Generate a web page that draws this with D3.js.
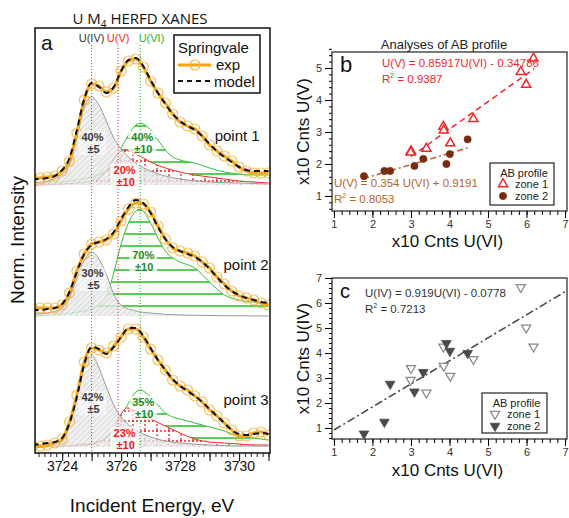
<!DOCTYPE html>
<html>
<head>
<meta charset="utf-8">
<script src="https://cdn.jsdelivr.net/npm/d3@7"></script>
<style>
body { margin: 0; background: white; }
svg { display: block; font-family: 'Liberation Sans', Arial, sans-serif; }
</style>
</head>
<body>
<div id="chart"></div>
<script>
// ---------- data, panel a (U M4 HERFD XANES) ----------
const energies = [3723.0, 3723.25, 3723.5, 3723.75, 3724.0, 3724.25, 3724.5, 3724.75, 3725.0, 3725.25,
                  3725.5, 3725.75, 3726.0, 3726.25, 3726.5, 3726.75, 3727.0, 3727.25, 3727.5, 3727.75,
                  3728.0, 3728.25, 3728.5, 3728.75, 3729.0, 3729.25, 3729.5, 3729.75, 3730.0, 3730.25,
                  3730.5, 3730.75, 3731.0];
const pointNames = ['point 1', 'point 2', 'point 3'];
const offsets = [2.68, 1.37, 0.06];

const expP1 = [0.06,0.07,0.08,0.09,0.14,0.24,0.52,0.85,1.01,0.99,0.93,0.97,1.14,1.24,1.26,1.18,1.04,0.92,0.82,0.71,0.63,0.59,0.56,0.49,0.40,0.34,0.29,0.24,0.18,0.14,0.12,0.12,0.12];
const expP2 = [0.08,0.08,0.08,0.08,0.11,0.23,0.45,0.62,0.72,0.74,0.76,0.82,0.95,1.07,1.13,1.12,1.04,0.90,0.77,0.68,0.65,0.63,0.60,0.54,0.48,0.39,0.32,0.25,0.20,0.18,0.16,0.13,0.11];
const expP3 = [0.01,0.01,0.02,0.04,0.08,0.25,0.52,0.85,0.99,0.97,0.94,1.01,1.10,1.18,1.18,1.10,0.98,0.87,0.77,0.67,0.61,0.57,0.51,0.45,0.37,0.31,0.24,0.17,0.11,0.11,0.14,0.15,0.12];

const modelP1 = [0.06,0.06,0.07,0.09,0.15,0.27,0.55,0.86,1.02,0.98,0.92,0.98,1.14,1.25,1.27,1.19,1.05,0.92,0.81,0.71,0.64,0.59,0.55,0.49,0.41,0.34,0.28,0.23,0.18,0.15,0.14,0.14,0.14];
const modelP2 = [0.06,0.06,0.07,0.08,0.12,0.24,0.44,0.62,0.71,0.74,0.77,0.84,0.97,1.09,1.16,1.13,1.03,0.89,0.77,0.69,0.65,0.62,0.59,0.54,0.47,0.39,0.31,0.25,0.21,0.18,0.16,0.14,0.13];
const modelP3 = [0.02,0.03,0.04,0.05,0.09,0.24,0.50,0.83,1.00,0.98,0.93,1.00,1.10,1.19,1.19,1.11,0.99,0.87,0.77,0.68,0.61,0.56,0.51,0.45,0.38,0.31,0.24,0.17,0.13,0.12,0.13,0.14,0.13];

// fitted components [energy, intensity]
const grayP1 = [[3723.0,0.02],[3723.5,0.04],[3724.0,0.11],[3724.25,0.20],[3724.5,0.47],[3724.75,0.78],[3725.0,0.88],[3725.25,0.80],[3725.5,0.64],[3725.75,0.47],[3726.0,0.36],[3726.5,0.22],[3727.0,0.14],[3727.5,0.09],[3728.0,0.06],[3729.0,0.03],[3730.0,0.02],[3731.0,0.01]];
const redP1 = [[3723.0,0.0],[3724.0,0.01],[3724.5,0.02],[3725.0,0.04],[3725.25,0.07],[3725.5,0.14],[3725.75,0.26],[3726.0,0.34],[3726.15,0.35],[3726.5,0.31],[3727.0,0.23],[3727.5,0.17],[3728.0,0.13],[3728.5,0.10],[3729.0,0.08],[3729.5,0.06],[3730.0,0.04],[3730.5,0.03],[3731.0,0.02]];
const greenP1 = [[3723.0,0.01],[3724.0,0.03],[3724.5,0.05],[3725.0,0.08],[3725.5,0.15],[3725.75,0.26],[3726.0,0.37],[3726.25,0.50],[3726.5,0.60],[3726.65,0.62],[3726.75,0.61],[3727.0,0.55],[3727.25,0.45],[3727.5,0.35],[3727.75,0.28],[3728.0,0.25],[3728.5,0.22],[3729.0,0.17],[3729.5,0.13],[3730.0,0.11],[3730.5,0.10],[3731.0,0.10]];
const grayP2 = [[3723.0,0.02],[3723.5,0.03],[3724.0,0.08],[3724.25,0.18],[3724.5,0.38],[3724.75,0.56],[3725.0,0.64],[3725.25,0.57],[3725.5,0.42],[3725.75,0.22],[3726.0,0.11],[3726.5,0.05],[3727.0,0.03],[3728.0,0.01],[3731.0,0.0]];
const greenP2 = [[3723.0,0.0],[3724.0,0.02],[3724.5,0.04],[3725.0,0.07],[3725.25,0.11],[3725.5,0.19],[3725.75,0.43],[3726.0,0.72],[3726.25,0.93],[3726.5,1.05],[3726.65,1.07],[3726.75,1.05],[3727.0,0.93],[3727.25,0.78],[3727.5,0.65],[3727.75,0.58],[3728.0,0.54],[3728.5,0.48],[3729.0,0.34],[3729.5,0.21],[3730.0,0.16],[3730.5,0.14],[3731.0,0.13]];
const grayP3 = [[3723.0,0.01],[3723.5,0.02],[3724.0,0.06],[3724.25,0.22],[3724.5,0.49],[3724.75,0.80],[3725.0,0.92],[3725.25,0.79],[3725.5,0.60],[3725.75,0.42],[3726.0,0.30],[3726.5,0.17],[3727.0,0.10],[3727.5,0.06],[3728.0,0.04],[3729.0,0.02],[3730.0,0.01],[3731.0,0.01]];
const redP3 = [[3723.0,0.0],[3724.0,0.01],[3725.0,0.03],[3725.25,0.05],[3725.5,0.09],[3725.75,0.18],[3726.0,0.33],[3726.2,0.39],[3726.5,0.36],[3727.0,0.28],[3727.5,0.21],[3728.0,0.14],[3728.5,0.08],[3729.0,0.05],[3729.5,0.04],[3730.0,0.03],[3730.5,0.02],[3731.0,0.02]];
const greenP3 = [[3723.0,0.0],[3724.0,0.01],[3724.5,0.02],[3725.0,0.04],[3725.5,0.10],[3725.75,0.18],[3726.0,0.30],[3726.25,0.44],[3726.5,0.55],[3726.65,0.57],[3726.75,0.56],[3727.0,0.50],[3727.25,0.42],[3727.5,0.34],[3727.75,0.30],[3728.0,0.28],[3728.5,0.24],[3729.0,0.20],[3729.5,0.16],[3730.0,0.11],[3730.5,0.09],[3731.0,0.07]];

const edgeNames = ['U(IV)', 'U(V)', 'U(VI)'];
const edgeEnergies = [3725.0, 3725.9, 3726.65];

// fractions: [point, component, percent, error]
const shares = [
  [0, 'IV', '40%', '±5'], [0, 'V', '20%', '±10'], [0, 'VI', '40%', '±10'],
  [1, 'IV', '30%', '±5'], [1, 'VI', '70%', '±10'],
  [2, 'IV', '42%', '±5'], [2, 'V', '23%', '±10'], [2, 'VI', '35%', '±10']
];

// ---------- data, panels b and c (AB profile) ----------
const zone1U6 = [3.0, 2.99, 3.4, 3.84, 3.85, 4.02, 4.62, 5.85, 5.99, 6.18];
const zone1U5 = [2.40, 2.36, 2.48, 3.17, 3.05, 2.65, 3.41, 4.88, 4.48, 5.30];
const zone1U4 = [3.39, 2.92, 2.41, 4.25, 3.48, 3.08, 3.75, 6.63, 5.01, 4.25];
const zone2U6 = [1.78, 2.31, 2.46, 3.09, 3.32, 3.92, 4.01, 4.47];
const zone2U5 = [1.62, 1.78, 1.78, 1.94, 2.16, 2.00, 2.31, 2.77];
const zone2U4 = [0.77, 1.24, 2.76, 2.45, 3.23, 4.39, 4.08, 3.99];

const fitB1 = [[3.0, 2.23], [6.2, 4.98]];
const fitB2 = [[1.76, 1.54], [4.47, 2.50]];
const fitC = [[1.0, 0.92], [7.0, 6.45]];

const eqB1 = ['U(V) = 0.85917U(VI) - 0.34786', '0.9387'];
const eqB2 = ['U(V) = 0.354 U(VI) + 0.9191', '0.8053'];
const eqC = ['U(IV) = 0.919U(VI) - 0.0778', '0.7213'];

// ---------- colours ----------
const orange = '#f6a313';
const red = '#f2262a';
const green = '#2fc42f';
const brown = '#b4622c';

const w = 569;
const h = 518;

const svg = d3.select('#chart')
              .append('svg')
              .attr('width', w)
              .attr('height', h)
              .style('background-color', 'white');

const defs = svg.append('defs');

// patterns
const hatch = defs.append('pattern').attr('id', 'hatch').attr('patternUnits', 'userSpaceOnUse')
   .attr('width', 4).attr('height', 4).attr('patternTransform', 'rotate(45)');
hatch.append('rect').attr('width', 4).attr('height', 4).attr('fill', '#ececec');
hatch.append('line').attr('x1', 0).attr('y1', 0).attr('x2', 0).attr('y2', 4)
   .attr('stroke', '#bdbdbd').attr('stroke-width', 1.2);

const dots = defs.append('pattern').attr('id', 'dots').attr('patternUnits', 'userSpaceOnUse')
   .attr('width', 12).attr('height', 10);
dots.append('rect').attr('width', 12).attr('height', 10).attr('fill', 'white');
dots.append('line').attr('x1', 1).attr('y1', 0).attr('x2', 1).attr('y2', 10)
   .attr('stroke', red).attr('stroke-width', 1.3).attr('stroke-dasharray', '2,2');
dots.append('line').attr('x1', 0).attr('y1', 1).attr('x2', 12).attr('y2', 1)
   .attr('stroke', red).attr('stroke-width', 1.3).attr('stroke-dasharray', '2,2');

const stripes = defs.append('pattern').attr('id', 'stripes').attr('patternUnits', 'userSpaceOnUse')
   .attr('width', 10).attr('height', 12);
stripes.append('rect').attr('width', 10).attr('height', 12).attr('fill', 'white');
stripes.append('line').attr('x1', 0).attr('y1', 6).attr('x2', 10).attr('y2', 6)
   .attr('stroke', green).attr('stroke-width', 1.6);

// ================= panel a =================
const pa = {l: 35, r: 270, t: 28, b: 453};
const xA = d3.scaleLinear().domain([3723.08, 3731.05]).range([pa.l, pa.r]);
const yA = d3.scaleLinear().domain([0, 4.25]).range([pa.b, pa.t]);

defs.append('clipPath').attr('id', 'clipA')
   .append('rect').attr('x', pa.l).attr('y', pa.t).attr('width', pa.r - pa.l).attr('height', pa.b - pa.t);

const gA = svg.append('g').attr('clip-path', 'url(#clipA)');

const components = [
   {gray: grayP1, red: redP1, green: greenP1},
   {gray: grayP2, red: null, green: greenP2},
   {gray: grayP3, red: redP3, green: greenP3}
];
const exps = [expP1, expP2, expP3];
const models = [modelP1, modelP2, modelP3];

const compStyle = {
   green: {fill: 'url(#stripes)', stroke: green, opacity: 1},
   red: {fill: 'url(#dots)', stroke: red, opacity: 1},
   gray: {fill: 'url(#hatch)', stroke: '#9a9a9a', opacity: 0.8}
};

components.forEach((c, i) => {
   const off = offsets[i];
   const area = d3.area().x(d => xA(d[0])).y0(yA(off)).y1(d => yA(off + d[1])).curve(d3.curveMonotoneX);
   const line = d3.line().x(d => xA(d[0])).y(d => yA(off + d[1])).curve(d3.curveMonotoneX);
   ['green', 'red', 'gray'].forEach(k => {
      if (!c[k]) return;
      gA.append('path').attr('d', area(c[k]))
         .attr('fill', compStyle[k].fill).attr('fill-opacity', compStyle[k].opacity);
      gA.append('path').attr('d', line(c[k]))
         .attr('fill', 'none').attr('stroke', compStyle[k].stroke).attr('stroke-width', 1);
   });
});

// edge markers
const edgeColors = ['#666', red, '#2aa82a'];
const edgeLabelColors = ['#333', red, '#2fb02f'];
const edgeLabelX = [0, 0, 0.38];
edgeEnergies.forEach((e, i) => {
   svg.append('line')
      .attr('x1', xA(e)).attr('x2', xA(e))
      .attr('y1', 45).attr('y2', pa.b)
      .attr('stroke', edgeColors[i]).attr('stroke-width', 1).attr('stroke-dasharray', '1,2');
   svg.append('text')
      .attr('x', xA(e + edgeLabelX[i])).attr('y', 42)
      .attr('text-anchor', 'middle')
      .attr('font-size', '11px')
      .attr('fill', edgeLabelColors[i])
      .text(edgeNames[i]);
});

// share labels: [energy of centre, intensity of first baseline above offset]
const shareLayout = {
   '0IV': [3725.03, 0.44], '0V': [3726.12, 0.11], '0VI': [3726.72, 0.44],
   '1IV': [3725.03, 0.39], '1VI': [3726.75, 0.57],
   '2IV': [3725.03, 0.46], '2V': [3726.12, 0.10], '2VI': [3726.75, 0.41]
};
const shareColors = {IV: '#3a3a3a', V: '#f01818', VI: '#1f8a1f'};
shares.forEach(s => {
   const [p, comp, pct, err] = s;
   const pos = shareLayout[p + comp];
   const cx = xA(pos[0]);
   const by = yA(offsets[p] + pos[1]);
   svg.append('rect')
      .attr('x', cx - 14).attr('y', by - 10).attr('width', 28).attr('height', 24)
      .attr('fill', 'white').attr('fill-opacity', comp === 'IV' ? 0.45 : 0.7);
   svg.append('text').attr('x', cx).attr('y', by)
      .attr('text-anchor', 'middle').attr('font-size', '11px').attr('font-weight', 'bold')
      .attr('fill', shareColors[comp]).text(pct);
   svg.append('text').attr('x', cx + 1).attr('y', by + 12)
      .attr('text-anchor', 'middle').attr('font-size', '11px').attr('font-weight', 'bold')
      .attr('fill', shareColors[comp]).text(err);
});

// exp + model
exps.forEach((vals, i) => {
   const pts = energies.map((e, j) => [e, offsets[i] + vals[j]]);
   const line = d3.line().x(d => xA(d[0])).y(d => yA(d[1])).curve(d3.curveMonotoneX);
   gA.append('path').attr('d', line(pts))
      .attr('fill', 'none').attr('stroke', orange).attr('stroke-width', 3);
   gA.selectAll(null).data(pts).enter().append('circle')
      .attr('cx', d => xA(d[0])).attr('cy', d => yA(d[1])).attr('r', 5)
      .attr('fill', 'none').attr('stroke', '#f7b440').attr('stroke-width', 1.2).attr('stroke-opacity', 0.85);
});
models.forEach((vals, i) => {
   const pts = energies.map((e, j) => [e, offsets[i] + vals[j]]);
   const line = d3.line().x(d => xA(d[0])).y(d => yA(d[1])).curve(d3.curveMonotoneX);
   gA.append('path').attr('d', line(pts))
      .attr('fill', 'none').attr('stroke', '#111').attr('stroke-width', 2).attr('stroke-dasharray', '6,4');
});

// point names
const pointNameLayout = [[3730.7, 0.44], [3731.0, 0.46], [3731.0, 0.42]];
pointNames.forEach((n, i) => {
   svg.append('text')
      .attr('x', xA(pointNameLayout[i][0])).attr('y', yA(offsets[i] + pointNameLayout[i][1]))
      .attr('text-anchor', 'end').attr('font-size', '15px').attr('fill', '#111')
      .text(n);
});

// frame + axis
svg.append('rect').attr('x', pa.l).attr('y', pa.t).attr('width', pa.r - pa.l).attr('height', pa.b - pa.t)
   .attr('fill', 'none').attr('stroke', '#111').attr('stroke-width', 1.5);

const minorA = d3.range(0, 40).map(i => 3723.2 + i * 0.2);
svg.append('g').attr('transform', `translate(0, ${pa.b})`)
   .call(d3.axisBottom(xA).tickValues(minorA).tickSize(4).tickFormat(''))
   .call(g => g.select('.domain').remove())
   .call(g => g.selectAll('line').attr('stroke', '#222'));
svg.append('g').attr('transform', `translate(0, ${pa.b})`)
   .call(d3.axisBottom(xA).tickValues(d3.range(3724, 3731.5, 1)).tickSize(8)
      .tickFormat(d => d % 2 === 0 ? d : ''))
   .call(g => g.select('.domain').remove())
   .call(g => g.selectAll('line').attr('stroke', '#222').attr('stroke-width', 1.2))
   .call(g => g.selectAll('text').attr('font-size', '14px').attr('fill', '#111')
      .attr('dy', '0.5em').attr('font-family', "'Liberation Sans', Arial, sans-serif"));

svg.append('text').attr('x', 152).attr('y', 512).attr('text-anchor', 'middle')
   .attr('font-size', '19px').attr('fill', '#111').text('Incident Energy, eV');
svg.append('text').attr('transform', 'rotate(-90)').attr('x', -240).attr('y', 24)
   .attr('text-anchor', 'middle').attr('font-size', '19px').attr('fill', '#111').text('Norm. Intensity');

const title = svg.append('text').attr('x', 140).attr('y', 24).attr('text-anchor', 'middle')
   .attr('font-size', '15px').attr('fill', '#111').attr('font-family', "'Open Sans', sans-serif");
title.append('tspan').text('U M');
title.append('tspan').attr('font-size', '10px').attr('dy', 4).text('4');
title.append('tspan').attr('dy', -4).text(' HERFD XANES');

svg.append('text').attr('x', 41).attr('y', 50).attr('font-size', '21px').attr('fill', '#111').text('a');

// legend a
const legA = svg.append('g');
legA.append('rect').attr('x', 174).attr('y', 35).attr('width', 86).attr('height', 58)
   .attr('fill', 'white').attr('stroke', '#111').attr('stroke-width', 1.5);
legA.append('text').attr('x', 178).attr('y', 53).attr('font-size', '15px').attr('fill', '#111').text('Springvale');
legA.append('line').attr('x1', 178).attr('x2', 211).attr('y1', 65).attr('y2', 65)
   .attr('stroke', orange).attr('stroke-width', 3);
legA.append('circle').attr('cx', 195).attr('cy', 65).attr('r', 5)
   .attr('fill', 'none').attr('stroke', '#f7b440').attr('stroke-width', 1.2);
legA.append('text').attr('x', 216).attr('y', 70).attr('font-size', '15px').attr('fill', '#111').text('exp');
legA.append('line').attr('x1', 178).attr('x2', 210).attr('y1', 81).attr('y2', 81)
   .attr('stroke', '#111').attr('stroke-width', 2).attr('stroke-dasharray', '5,4');
legA.append('text').attr('x', 214).attr('y', 87).attr('font-size', '15px').attr('fill', '#111').text('model');

// ================= panels b and c =================
function scatterPanel(cfg) {
   const {l, r, t, b} = cfg.box;
   const x = d3.scaleLinear().domain([0.95, 7.05]).range([l, r]);
   const y = d3.scaleLinear().domain(cfg.ydom).range([b, t]);

   svg.append('rect').attr('x', l).attr('y', t).attr('width', r - l).attr('height', b - t)
      .attr('fill', 'white').attr('stroke', '#222').attr('stroke-width', 1.2);

   // ticks
   const minorX = d3.range(0, 31).map(i => 1 + i * 0.2);
   svg.append('g').attr('transform', `translate(0, ${b})`)
      .call(d3.axisBottom(x).tickValues(minorX).tickSize(4).tickFormat(''))
      .call(g => g.select('.domain').remove());
   svg.append('g').attr('transform', `translate(0, ${b})`)
      .call(d3.axisBottom(x).tickValues(d3.range(1, 8)).tickSize(7).tickFormat(d3.format('d')))
      .call(g => g.select('.domain').remove())
      .call(g => g.selectAll('text').attr('font-size', '11px').attr('fill', '#333')
         .attr('dy', '0.6em').attr('font-family', "'Liberation Sans', Arial, sans-serif"));
   const ymax = Math.floor(cfg.ydom[1]);
   const minorY = d3.range(0, Math.round((cfg.ydom[1] - 0.6) / 0.2) + 1).map(i => 0.6 + i * 0.2);
   svg.append('g').attr('transform', `translate(${l}, 0)`)
      .call(d3.axisLeft(y).tickValues(minorY).tickSize(3).tickFormat(''))
      .call(g => g.select('.domain').remove());
   svg.append('g').attr('transform', `translate(${l}, 0)`)
      .call(d3.axisLeft(y).tickValues(d3.range(1, ymax + 1)).tickSize(7).tickFormat(d3.format('d')))
      .call(g => g.select('.domain').remove())
      .call(g => g.selectAll('text').attr('font-size', '11px').attr('fill', '#333')
         .attr('font-family', "'Liberation Sans', Arial, sans-serif"));

   // fit lines
   cfg.fits.forEach(f => {
      svg.append('path')
         .attr('d', d3.line().x(d => x(d[0])).y(d => y(d[1]))(f.pts))
         .attr('fill', 'none').attr('stroke', f.color).attr('stroke-width', 1.5)
         .attr('stroke-dasharray', f.dash);
   });

   // points
   cfg.series.forEach(s => {
      const pts = s.x.map((v, i) => [v, s.y[i]]);
      svg.selectAll(null).data(pts).enter().append('path')
         .attr('d', d3.symbol().type(s.symbol).size(s.size))
         .attr('transform', d => `translate(${x(d[0])}, ${y(d[1])}) rotate(${s.rot})`)
         .attr('fill', s.fill).attr('stroke', s.stroke).attr('stroke-width', s.sw);
   });

   // equations
   cfg.eqs.forEach(e => {
      svg.append('text').attr('x', e.x).attr('y', e.y).attr('font-size', '11.5px').attr('fill', e.color).text(e.text[0]);
      const r2 = svg.append('text').attr('x', e.x).attr('y', e.y + 16).attr('font-size', '11.5px').attr('fill', e.color);
      r2.append('tspan').text('R');
      r2.append('tspan').attr('font-size', '7px').attr('dy', -5).text('2');
      r2.append('tspan').attr('dy', 5).text(' = ' + e.text[1]);
   });

   svg.append('text').attr('x', l + 8).attr('y', t + 20).attr('font-size', cfg.letterSize).attr('fill', '#111').text(cfg.letter);

   // legend
   const lg = cfg.legend;
   svg.append('rect').attr('x', lg.x).attr('y', lg.y).attr('width', lg.w).attr('height', lg.h)
      .attr('fill', 'white').attr('stroke', '#222').attr('stroke-width', 1.2);
   svg.append('text').attr('x', lg.x + lg.w / 2 + 2).attr('y', lg.y + 14).attr('text-anchor', 'middle')
      .attr('font-size', '11px').attr('fill', '#222').text('AB profile');
   cfg.series.forEach((s, i) => {
      const yy = lg.y + 21 + i * 12;
      svg.append('path').attr('d', d3.symbol().type(s.symbol).size(s.size))
         .attr('transform', `translate(${lg.x + 13}, ${yy}) rotate(${s.rot})`)
         .attr('fill', s.fill).attr('stroke', s.stroke).attr('stroke-width', s.sw);
      svg.append('text').attr('x', lg.x + 25).attr('y', yy + 4)
         .attr('font-size', '11px').attr('fill', '#222').text(s.name);
   });

   // axis titles
   svg.append('text').attr('x', (l + r) / 2 - 2).attr('y', cfg.xlabY).attr('text-anchor', 'middle')
      .attr('font-size', '17px').attr('fill', '#111').text('x10 Cnts U(VI)');
   svg.append('text').attr('transform', 'rotate(-90)').attr('x', -(t + b) / 2).attr('y', 309)
      .attr('text-anchor', 'middle').attr('font-size', '17px').attr('fill', '#111').text(cfg.ylab);
}

scatterPanel({
   box: {l: 332, r: 567, t: 52, b: 211},
   ydom: [0.53, 5.5],
   letter: 'b', letterSize: '22px',
   xlabY: 247, ylab: 'x10 Cnts U(V)',
   fits: [
      {pts: fitB1, color: red, dash: '6,4'},
      {pts: fitB2, color: brown, dash: '6,3,2,3'}
   ],
   series: [
      {name: 'zone 1', x: zone1U6, y: zone1U5, symbol: d3.symbolTriangle, size: 36, rot: 0,
       fill: 'white', stroke: red, sw: 1.5},
      {name: 'zone 2', x: zone2U6, y: zone2U5, symbol: d3.symbolCircle, size: 42, rot: 0,
       fill: '#7a2a0e', stroke: '#7a2a0e', sw: 0.5}
   ],
   eqs: [
      {text: eqB1, x: 382, y: 67, color: red},
      {text: eqB2, x: 334, y: 187, color: brown}
   ],
   legend: {x: 490, y: 163, w: 64, h: 42}
});

scatterPanel({
   box: {l: 332, r: 567, t: 278, b: 439},
   ydom: [0.56, 7.0],
   letter: 'c', letterSize: '20px',
   xlabY: 476, ylab: 'x10 Cnts U(IV)',
   fits: [
      {pts: fitC, color: '#444', dash: '8,3,2,3'}
   ],
   series: [
      {name: 'zone 1', x: zone1U6, y: zone1U4, symbol: d3.symbolTriangle, size: 36, rot: 180,
       fill: 'white', stroke: '#8a8a8a', sw: 1.3},
      {name: 'zone 2', x: zone2U6, y: zone2U4, symbol: d3.symbolTriangle, size: 40, rot: 180,
       fill: '#4a4a4a', stroke: '#4a4a4a', sw: 0.8}
   ],
   eqs: [
      {text: eqC, x: 365, y: 297, color: '#333'}
   ],
   legend: {x: 482, y: 393, w: 65, h: 40}
});

// title of b
svg.append('text').attr('x', 444).attr('y', 49).attr('text-anchor', 'middle')
   .attr('font-size', '13px').attr('fill', '#222').text('Analyses of AB profile');
</script>
</body>
</html>
